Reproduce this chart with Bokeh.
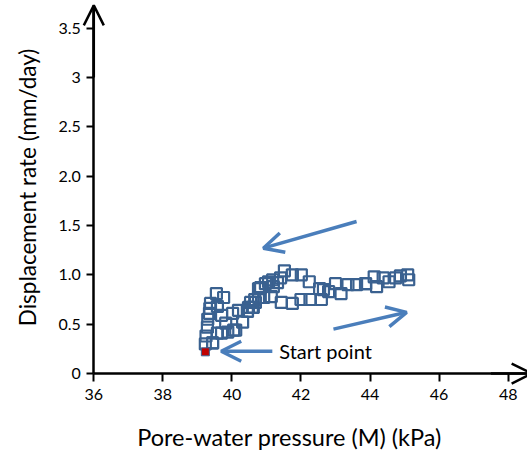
import math
from bokeh.plotting import figure
from bokeh.models import Arrow, OpenHead, FixedTicker, Range1d, Label
from bokeh.embed import file_html
from bokeh.resources import INLINE

# Pore-water pressure (kPa) vs displacement rate (mm/day)
pressure = [
    39.23, 39.25, 39.29, 39.30, 39.35, 39.36, 39.38, 39.55, 39.76, 39.58,
    39.70, 39.82, 39.58, 39.44, 39.88, 40.05, 40.02, 40.19, 40.31, 40.45,
    40.48, 40.54, 40.68, 40.77, 40.92, 41.14, 41.43, 41.75, 42.00, 42.26,
    42.59, 42.65, 43.00, 43.16, 43.36, 43.61, 43.87, 44.19, 44.55, 45.12,
    45.09, 44.88, 44.74, 44.38, 44.12, 43.87, 42.80, 42.54, 42.24, 42.01,
    41.75, 41.52, 41.41, 41.32, 41.18, 41.20, 41.06, 40.97, 40.83, 40.77,
    40.66, 40.62, 40.59, 40.45, 40.11, 39.70, 39.44,
]
rate = [
    0.30, 0.38, 0.47, 0.55, 0.61, 0.66, 0.71, 0.81, 0.77, 0.68,
    0.59, 0.51, 0.41, 0.31, 0.42, 0.44, 0.61, 0.64, 0.52, 0.63,
    0.67, 0.72, 0.72, 0.77, 0.77, 0.78, 0.72, 0.71, 0.75, 0.75,
    0.75, 0.85, 0.91, 0.81, 0.90, 0.90, 0.91, 0.88, 0.93, 0.95,
    1.00, 0.99, 0.97, 0.97, 0.98, 0.91, 0.83, 0.86, 0.93, 1.00,
    1.00, 1.04, 0.97, 0.92, 0.95, 0.88, 0.93, 0.91, 0.87, 0.86,
    0.75, 0.67, 0.67, 0.63, 0.44, 0.41, 0.31,
]
start_pressure = [39.23]
start_rate = [0.22]

x_ticks = [36, 38, 40, 42, 44, 46, 48]
y_ticks = [0, 0.5, 1.0, 1.5, 2.0, 2.5, 3.0, 3.5]
y_tick_labels = ["0", "0.5", "1.0", "1.5", "2.0", "2.5", "3", "3.5"]

x_title = "Pore-water pressure (M) (kPa)"
y_title = "Displacement rate (mm/day)"

# direction arrows: (x_start, y_start, x_end, y_end)
trend_arrows = [
    (43.61, 1.54, 40.91, 1.27),
    (42.94, 0.45, 45.06, 0.62),
    (41.17, 0.226, 39.69, 0.226),
]
start_label = (41.37, 0.226, "Start point")

FONT = "Lato"
MARK = "#3a6190"
ARROW = "#4a7ebb"

# the frame covers the whole canvas; axes are pinned at x=36 and y=0
p = figure(
    width=527, height=452,
    x_range=Range1d(33.298, 48.56), y_range=Range1d(-0.800, 3.779),
    output_backend="svg", toolbar_location=None,
    min_border_left=0, min_border_right=0,
    min_border_top=0, min_border_bottom=0,
)
p.outline_line_color = None
p.grid.visible = False
p.background_fill_color = "white"
p.border_fill_color = "white"

for ax in (p.xaxis[0], p.yaxis[0]):
    ax.axis_line_width = 2.5
    ax.axis_line_color = "black"
    ax.major_tick_line_width = 2
    ax.major_tick_line_color = "black"
    ax.minor_tick_line_color = None
    ax.major_tick_in = 0
    ax.major_label_text_font = FONT
    ax.major_label_text_font_size = "16px"
    ax.major_label_text_color = "black"
    ax.axis_label = None

p.xaxis.fixed_location = 0
p.xaxis.bounds = (36, 48.7)
p.xaxis.ticker = FixedTicker(ticks=x_ticks)
p.xaxis.major_tick_out = 8
p.xaxis.major_label_standoff = 7

p.yaxis.fixed_location = 36
p.yaxis.bounds = (0, 3.73)
p.yaxis.ticker = FixedTicker(ticks=y_ticks)
p.yaxis.major_label_overrides = {t: s for t, s in zip(y_ticks, y_tick_labels)}
p.yaxis.major_tick_out = 7
p.yaxis.major_label_standoff = 6

# axis titles
p.add_layout(Label(x=41.667, y=-0.648, text=x_title, text_font=FONT,
                   text_font_size="23.5px", text_color="black",
                   text_align="center", text_baseline="middle"))
p.add_layout(Label(x=34.08, y=1.885, text=y_title, text_font=FONT,
                   text_font_size="22.5px", text_color="black",
                   text_align="center", text_baseline="middle",
                   angle=math.pi / 2))

# axis arrowheads
p.add_layout(Arrow(end=OpenHead(size=20, line_width=2.5, line_color="black"),
                   x_start=36, y_start=3.0, x_end=36, y_end=3.73,
                   line_width=2.5, line_color="black"))
p.add_layout(Arrow(end=OpenHead(size=20, line_width=2.5, line_color="black"),
                   x_start=47.5, y_start=0, x_end=48.68, y_end=0,
                   line_width=2.5, line_color="black"))

# measurements
p.scatter(pressure, rate, marker="square", size=11, fill_alpha=0,
          line_color=MARK, line_width=2.2)
p.scatter(start_pressure, start_rate, marker="square", size=8,
          fill_color="#c00000", line_color=MARK, line_width=1)

for xs, ys, xe, ye in trend_arrows:
    p.add_layout(Arrow(end=OpenHead(size=20, line_width=3.5, line_color=ARROW),
                       x_start=xs, y_start=ys, x_end=xe, y_end=ye,
                       line_width=3.5, line_color=ARROW))

p.add_layout(Label(x=start_label[0], y=start_label[1], text=start_label[2],
                   text_font=FONT, text_font_size="20px", text_color="black",
                   text_baseline="middle", text_align="left"))

open("out.html", "w").write(file_html(p, INLINE))
